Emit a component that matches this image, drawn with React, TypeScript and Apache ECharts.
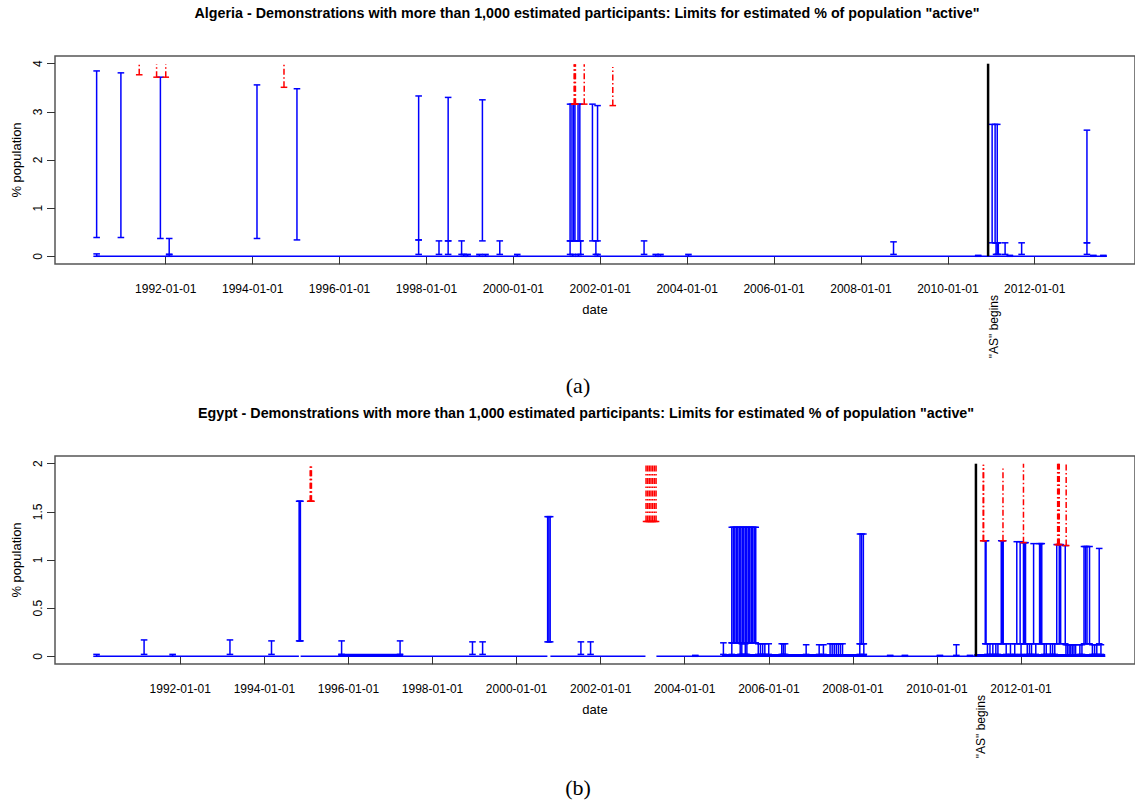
import React, { useEffect, useRef } from 'react';
import * as echarts from 'echarts';

// ---------- DATA ----------
const tickLabels = ['1992-01-01', '1994-01-01', '1996-01-01', '1998-01-01', '2000-01-01', '2002-01-01', '2004-01-01', '2006-01-01', '2008-01-01', '2010-01-01', '2012-01-01'];
const algeriaYTicks = [0, 1, 2, 3, 4];
const egyptYTicks = [0, 0.5, 1, 1.5, 2];
const asBeginsDate = '2010-12-05';

const algeriaTitle = 'Algeria - Demonstrations with more than 1,000 estimated participants: Limits for estimated % of population "active"';
const egyptTitle = 'Egypt - Demonstrations with more than 1,000 estimated participants: Limits for estimated % of population "active"';

// [date, lower limit, upper limit]
const algeriaBars: [string, number, number][] = [
  ['1990-05-30', 0.39, 3.85], ['1990-05-30', 0, 0.05],
  ['1990-12-20', 0.39, 3.81],
  ['1991-11-17', 0.37, 3.72],
  ['1992-01-30', 0.04, 0.37], ['1992-01-30', 0, 0.04],
  ['1994-02-06', 0.37, 3.56],
  ['1995-01-08', 0.34, 3.48],
  ['1997-10-27', 0.34, 3.33], ['1997-10-27', 0.04, 0.34],
  ['1998-04-16', 0.04, 0.32],
  ['1998-07-02', 0.32, 3.30], ['1998-07-02', 0.04, 0.32],
  ['1998-10-23', 0.04, 0.32],
  ['1998-11-10', 0, 0.04], ['1998-12-13', 0, 0.04],
  ['1999-03-22', 0, 0.04],
  ['1999-04-16', 0.32, 3.25],
  ['1999-05-12', 0, 0.04],
  ['1999-09-09', 0.04, 0.32],
  ['2000-02-03', 0, 0.04],
  ['2001-04-22', 0.32, 3.16], ['2001-04-22', 0.04, 0.32],
  ['2001-05-08', 0.32, 3.16],
  ['2001-05-22', 0.32, 3.16],
  ['2001-06-02', 0.32, 3.16],
  ['2001-06-28', 0.32, 3.16],
  ['2001-07-13', 0.32, 3.16],
  ['2001-07-20', 0.04, 0.32],
  ['2001-05-15', 0, 0.04], ['2001-07-01', 0, 0.04],
  ['2001-10-27', 0.32, 3.16],
  ['2001-11-25', 0.04, 0.32],
  ['2001-12-09', 0.32, 3.13], ['2001-12-09', 0, 0.04],
  ['2003-01-04', 0.04, 0.32],
  ['2003-04-12', 0, 0.04], ['2003-05-22', 0, 0.04],
  ['2004-01-12', 0, 0.04],
  ['2008-10-01', 0.04, 0.30],
  ['2010-09-13', 0, 0.02],
  ['2011-01-08', 0.28, 2.74],
  ['2011-02-02', 0.28, 2.74],
  ['2011-02-20', 0.28, 2.74],
  ['2011-02-10', 0.04, 0.28], ['2011-02-20', 0.04, 0.28], ['2011-03-01', 0.04, 0.28],
  ['2011-04-27', 0.04, 0.28],
  ['2011-06-06', 0, 0.02],
  ['2011-09-13', 0.04, 0.28],
  ['2013-03-15', 0.28, 2.62], ['2013-03-15', 0.04, 0.28],
  ['2013-05-08', 0, 0.02], ['2013-07-31', 0, 0.02],
];

const algeriaRed: [string, number, number][] = [
  ['1991-05-23', 3.77, 3.98],
  ['1991-10-16', 3.72, 3.99],
  ['1992-01-01', 3.72, 3.99],
  ['1994-09-21', 3.51, 3.99],
  ['2001-05-26', 3.16, 3.99],
  ['2001-06-01', 3.16, 3.99],
  ['2001-06-06', 3.16, 3.99],
  ['2001-08-19', 3.16, 3.99],
  ['2002-04-16', 3.13, 3.93],
];

// [start, end, value]
const algeriaBase: [string, string, number][] = [['1990-05-30', '2013-08-29', 0]];

const egyptBars: [string, number, number][] = [
  ['1990-01-04', 0, 0.02],
  ['1991-02-21', 0.02, 0.17],
  ['1991-10-27', 0, 0.02],
  ['1993-03-08', 0.02, 0.17],
  ['1994-03-04', 0.02, 0.16],
  ['1994-10-30', 0.16, 1.61], ['1994-11-06', 0.16, 1.61], ['1994-11-10', 0.16, 1.61],
  ['1995-11-03', 0.02, 0.16],
  ['1997-03-25', 0.02, 0.16],
  ['1998-12-14', 0.02, 0.15],
  ['1999-03-12', 0.02, 0.15],
  ['2000-09-27', 0.15, 1.45], ['2000-10-08', 0.15, 1.45], ['2000-10-19', 0.15, 1.45],
  ['2001-07-13', 0.02, 0.15],
  ['2001-10-05', 0.02, 0.15],
  ['2004-04-02', 0, 0.01],
  ['2004-12-02', 0.02, 0.14], ['2005-02-13', 0.02, 0.14], ['2005-04-27', 0.02, 0.14], ['2005-06-24', 0.02, 0.14],
  ['2005-02-13', 0.14, 1.34], ['2005-02-26', 0.14, 1.34], ['2005-03-11', 0.14, 1.34], ['2005-03-24', 0.14, 1.34],
  ['2005-04-06', 0.14, 1.34], ['2005-04-19', 0.14, 1.34], ['2005-05-02', 0.14, 1.34], ['2005-05-15', 0.14, 1.34],
  ['2005-05-28', 0.14, 1.34], ['2005-06-10', 0.14, 1.34], ['2005-06-23', 0.14, 1.34], ['2005-07-06', 0.14, 1.34],
  ['2005-07-19', 0.14, 1.34], ['2005-08-01', 0.14, 1.34], ['2005-08-14', 0.14, 1.34], ['2005-08-27', 0.14, 1.34],
  ['2005-09-09', 0.14, 1.34],
  ['2005-05-11', 0.02, 0.13], ['2005-06-10', 0.02, 0.13], ['2005-10-01', 0.02, 0.13], ['2005-10-20', 0.02, 0.13],
  ['2005-11-08', 0.02, 0.13], ['2005-11-27', 0.02, 0.13], ['2005-12-31', 0.02, 0.13],
  ['2006-04-23', 0.02, 0.13], ['2006-05-07', 0.02, 0.13], ['2006-05-22', 0.02, 0.13],
  ['2006-11-21', 0.02, 0.12],
  ['2007-03-14', 0.02, 0.12], ['2007-04-20', 0.02, 0.12],
  ['2007-06-17', 0.01, 0.13], ['2007-07-05', 0.01, 0.13], ['2007-07-23', 0.01, 0.13], ['2007-08-10', 0.01, 0.13],
  ['2007-08-28', 0.01, 0.13], ['2007-09-15', 0.01, 0.13], ['2007-10-03', 0.01, 0.13],
  ['2008-03-03', 0.13, 1.27], ['2008-03-17', 0.13, 1.27], ['2008-04-01', 0.13, 1.27],
  ['2008-03-01', 0.02, 0.13], ['2008-04-05', 0.02, 0.13],
  ['2008-11-20', 0, 0.01], ['2009-03-28', 0, 0.01], ['2010-01-26', 0, 0.01],
  ['2010-06-18', 0.01, 0.12],
  ['2010-10-15', 0, 0.01],
  ['2011-02-24', 0.13, 1.20], ['2011-03-03', 0.13, 1.20],
  ['2011-07-13', 0.13, 1.20], ['2011-07-22', 0.13, 1.20], ['2011-07-30', 0.13, 1.20],
  ['2011-11-25', 0.13, 1.19], ['2011-12-24', 0.13, 1.19],
  ['2012-01-22', 0.13, 1.18], ['2012-02-02', 0.13, 1.18], ['2012-02-09', 0.13, 1.18],
  ['2012-04-19', 0.13, 1.17], ['2012-06-10', 0.13, 1.17], ['2012-06-20', 0.13, 1.17], ['2012-06-29', 0.13, 1.17],
  ['2012-11-06', 0.13, 1.16], ['2012-11-28', 0.13, 1.16], ['2012-12-10', 0.13, 1.16],
  ['2013-01-19', 0.13, 1.15],
  ['2013-07-01', 0.13, 1.14], ['2013-07-14', 0.13, 1.14], ['2013-07-27', 0.13, 1.14], ['2013-08-18', 0.13, 1.14],
  ['2013-11-10', 0.13, 1.12],
  ['2011-03-15', 0.02, 0.13], ['2011-04-06', 0.02, 0.13], ['2011-05-01', 0.02, 0.13], ['2011-05-27', 0.02, 0.13],
  ['2011-06-14', 0.02, 0.13], ['2011-08-25', 0.02, 0.13], ['2011-10-01', 0.02, 0.13], ['2011-11-07', 0.02, 0.13],
  ['2012-01-01', 0.02, 0.13], ['2012-02-24', 0.02, 0.13], ['2012-03-14', 0.02, 0.13], ['2012-04-01', 0.02, 0.13],
  ['2012-05-08', 0.02, 0.13], ['2012-07-20', 0.02, 0.13], ['2012-08-07', 0.02, 0.13], ['2012-09-12', 0.02, 0.13],
  ['2012-10-01', 0.02, 0.13], ['2012-10-20', 0.02, 0.13],
  ['2013-01-25', 0.01, 0.12], ['2013-02-08', 0.01, 0.12], ['2013-02-22', 0.01, 0.12], ['2013-03-08', 0.01, 0.12],
  ['2013-03-22', 0.01, 0.12], ['2013-04-05', 0.01, 0.12], ['2013-04-19', 0.01, 0.12],
  ['2013-05-26', 0.02, 0.12], ['2013-06-13', 0.02, 0.12], ['2013-09-12', 0.02, 0.12], ['2013-10-01', 0.02, 0.12],
  ['2013-10-20', 0.02, 0.12], ['2013-11-25', 0.02, 0.12],
];

const egyptRed: [string, number, number][] = [
  ['1995-02-03', 1.61, 1.97], ['1995-02-09', 1.61, 1.97], ['1995-02-14', 1.61, 1.97],
  ['2003-01-30', 1.40, 2.0], ['2003-02-14', 1.40, 2.0], ['2003-02-28', 1.40, 2.0], ['2003-03-14', 1.40, 2.0],
  ['2003-03-29', 1.40, 2.0], ['2003-04-13', 1.40, 2.0], ['2003-04-27', 1.40, 2.0],
  ['2011-02-06', 1.20, 1.99], ['2011-02-10', 1.20, 1.99],
  ['2011-07-28', 1.20, 1.95],
  ['2012-01-22', 1.18, 2.0],
  ['2012-11-14', 1.16, 2.0], ['2012-11-22', 1.16, 2.0], ['2012-11-28', 1.16, 2.0],
  ['2013-01-27', 1.15, 2.0],
];

const egyptBase: [string, string, number][] = [
  ['1990-01-04', '1994-10-28', 0],
  ['1994-11-12', '2000-09-25', 0],
  ['2000-10-21', '2003-01-25', 0],
  ['2003-04-30', '2014-01-01', 0],
];
const egyptBand: [string, string, number][] = [
  ['1995-10-05', '1997-04-20', 0.01],
  ['2004-11-20', '2008-05-01', 0.008],
  ['2010-11-20', '2014-01-01', 0.008],
];

// axis extents
const algeriaRange = ['1989-06-14', '2014-04-23'];
const egyptRange = ['1989-01-08', '2014-09-17'];
const algeriaY = [-0.16, 4.16];
const egyptY = [-0.08, 2.08];

// ---------- HELPERS ----------
const toTs = (d: string) => new Date(d + 'T00:00:00').getTime();
const pad = (n: number) => String(n).padStart(2, '0');
const fmtDate = (v: number) => {
  const d = new Date(v);
  return `${d.getFullYear()}-${pad(d.getMonth() + 1)}-${pad(d.getDate())}`;
};

const BLUE = '#0000ff';
const RED = '#ff0000';
const FRAME = '#555555';
const FONT = '"Liberation Sans", Arial, Helvetica, sans-serif';

const errorBarRender = (color: string, lw: number, dash: number[] | null, topCap: boolean) =>
  (params: any, api: any) => {
    const x = api.value(0);
    const a = api.coord([x, api.value(1)]);
    const b = api.coord([x, api.value(2)]);
    const hw = 3.3;
    const lineStyle: any = { stroke: color, lineWidth: lw };
    if (dash) lineStyle.lineDash = dash;
    const children: any[] = [
      { type: 'line', shape: { x1: a[0], y1: a[1], x2: b[0], y2: b[1] }, style: lineStyle },
      { type: 'line', shape: { x1: a[0] - hw, y1: a[1], x2: a[0] + hw, y2: a[1] }, style: { stroke: color, lineWidth: lw } },
    ];
    if (topCap) {
      children.push({ type: 'line', shape: { x1: b[0] - hw, y1: b[1], x2: b[0] + hw, y2: b[1] }, style: { stroke: color, lineWidth: lw } });
    }
    return { type: 'group', children };
  };

const segRender = (color: string, lw: number) => (params: any, api: any) => {
  const a = api.coord([api.value(0), api.value(2)]);
  const b = api.coord([api.value(1), api.value(2)]);
  return { type: 'line', shape: { x1: a[0], y1: a[1], x2: b[0], y2: b[1] }, style: { stroke: color, lineWidth: lw } };
};

const vlineRender = (params: any, api: any) => {
  const x = api.value(0);
  const a = api.coord([x, api.value(1)]);
  const b = api.coord([x, api.value(2)]);
  const cs = params.coordSys;
  return {
    type: 'group',
    children: [
      { type: 'line', shape: { x1: a[0], y1: a[1], x2: b[0], y2: b[1] }, style: { stroke: '#000', lineWidth: 2.5 } },
      {
        type: 'text', x: a[0] + 5.5, y: cs.y + cs.height + 31, rotation: Math.PI / 2,
        style: { text: '"AS" begins', fill: '#000', font: `12px ${FONT}`, align: 'right', verticalAlign: 'middle' },
      },
    ],
  };
};

const barData = (arr: [string, number, number][]) => arr.map(([d, l, h]) => [toTs(d), l, h]);
const segData = (arr: [string, string, number][]) => arr.map(([s, e, v]) => [toTs(s), toTs(e), v]);

function panelAxes(idx: number, range: string[], yr: number[], yTicks: number[]) {
  const xTicks = tickLabels.map(toTs);
  const xAxis = {
    type: 'value', gridIndex: idx, min: toTs(range[0]), max: toTs(range[1]), scale: true,
    axisLine: { show: false },
    axisTick: { show: true, length: 8, customValues: xTicks, lineStyle: { color: '#333', width: 1 } },
    axisLabel: { customValues: xTicks, formatter: (v: number) => fmtDate(v), color: '#000', fontSize: 12, fontFamily: FONT, margin: 19, hideOverlap: false, showMinLabel: true, showMaxLabel: true },
    splitLine: { show: false },
    name: 'date', nameLocation: 'middle', nameGap: 39,
    nameTextStyle: { color: '#000', fontSize: 13, fontFamily: FONT },
  };
  const yAxis = {
    type: 'value', gridIndex: idx, min: yr[0], max: yr[1],
    axisLine: { show: false },
    axisTick: { show: true, length: 8, customValues: yTicks, lineStyle: { color: '#333', width: 1 } },
    axisLabel: { customValues: yTicks, rotate: 90, color: '#000', fontSize: 12, fontFamily: FONT, margin: 11 },
    splitLine: { show: false },
    name: '% population', nameLocation: 'middle', nameGap: 32, nameRotate: 90,
    nameTextStyle: { color: '#000', fontSize: 13, fontFamily: FONT },
  };
  return { xAxis, yAxis };
}

function panelSeries(idx: number, bars: any, red: any, base: any, band: any, yTop: number) {
  const common = { type: 'custom', xAxisIndex: idx, yAxisIndex: idx, silent: true };
  return [
    { ...common, renderItem: segRender(BLUE, 1.5), data: segData(base), encode: { x: [0, 1], y: 2 } },
    { ...common, renderItem: segRender(BLUE, 3), data: segData(band), encode: { x: [0, 1], y: 2 } },
    { ...common, renderItem: errorBarRender(BLUE, 1.5, null, true), data: barData(bars), encode: { x: 0, y: [1, 2] } },
    { ...common, renderItem: errorBarRender(RED, 1.5, [6, 2.5, 1.5, 2.5], false), data: barData(red), encode: { x: 0, y: [1, 2] } },
    { ...common, renderItem: vlineRender, data: [[toTs(asBeginsDate), 0, yTop]], encode: { x: 0, y: [1, 2] } },
  ];
}

export default function App() {
  const ref = useRef<HTMLDivElement>(null);
  useEffect(() => {
    if (!ref.current) return;
    const chart = echarts.init(ref.current, undefined, { renderer: 'svg' });
    const a = panelAxes(0, algeriaRange, algeriaY, algeriaYTicks);
    const b = panelAxes(1, egyptRange, egyptY, egyptYTicks);
    const titleStyle = { font: `bold 14.3px ${FONT}`, fill: '#000', align: 'center', verticalAlign: 'middle' };
    const capStyle = { font: '22px "Liberation Serif", "DejaVu Serif", serif', fill: '#000', align: 'center', verticalAlign: 'middle' };
    chart.setOption({
      animation: false,
      backgroundColor: '#fff',
      grid: [
        { left: 55, top: 56, right: 0, height: 208, show: true, borderColor: FRAME, borderWidth: 1.5, backgroundColor: 'transparent' },
        { left: 55, top: 456, right: 0, height: 208, show: true, borderColor: FRAME, borderWidth: 1.5, backgroundColor: 'transparent' },
      ],
      xAxis: [a.xAxis, b.xAxis],
      yAxis: [a.yAxis, b.yAxis],
      series: [
        ...panelSeries(0, algeriaBars, algeriaRed, algeriaBase, [], 4),
        ...panelSeries(1, egyptBars, egyptRed, egyptBase, egyptBand, 2),
      ],
      graphic: [
        { type: 'text', x: 587, y: 13, style: { ...titleStyle, text: algeriaTitle } },
        { type: 'text', x: 586, y: 413, style: { ...titleStyle, text: egyptTitle } },
        { type: 'text', x: 578, y: 385, style: { ...capStyle, text: '(a)' } },
        { type: 'text', x: 578, y: 787, style: { ...capStyle, text: '(b)' } },
      ],
    });
    return () => chart.dispose();
  }, []);
  return <div ref={ref} style={{ position: 'absolute', left: 0, top: 0, width: 1135, height: 805 }} />;
}
